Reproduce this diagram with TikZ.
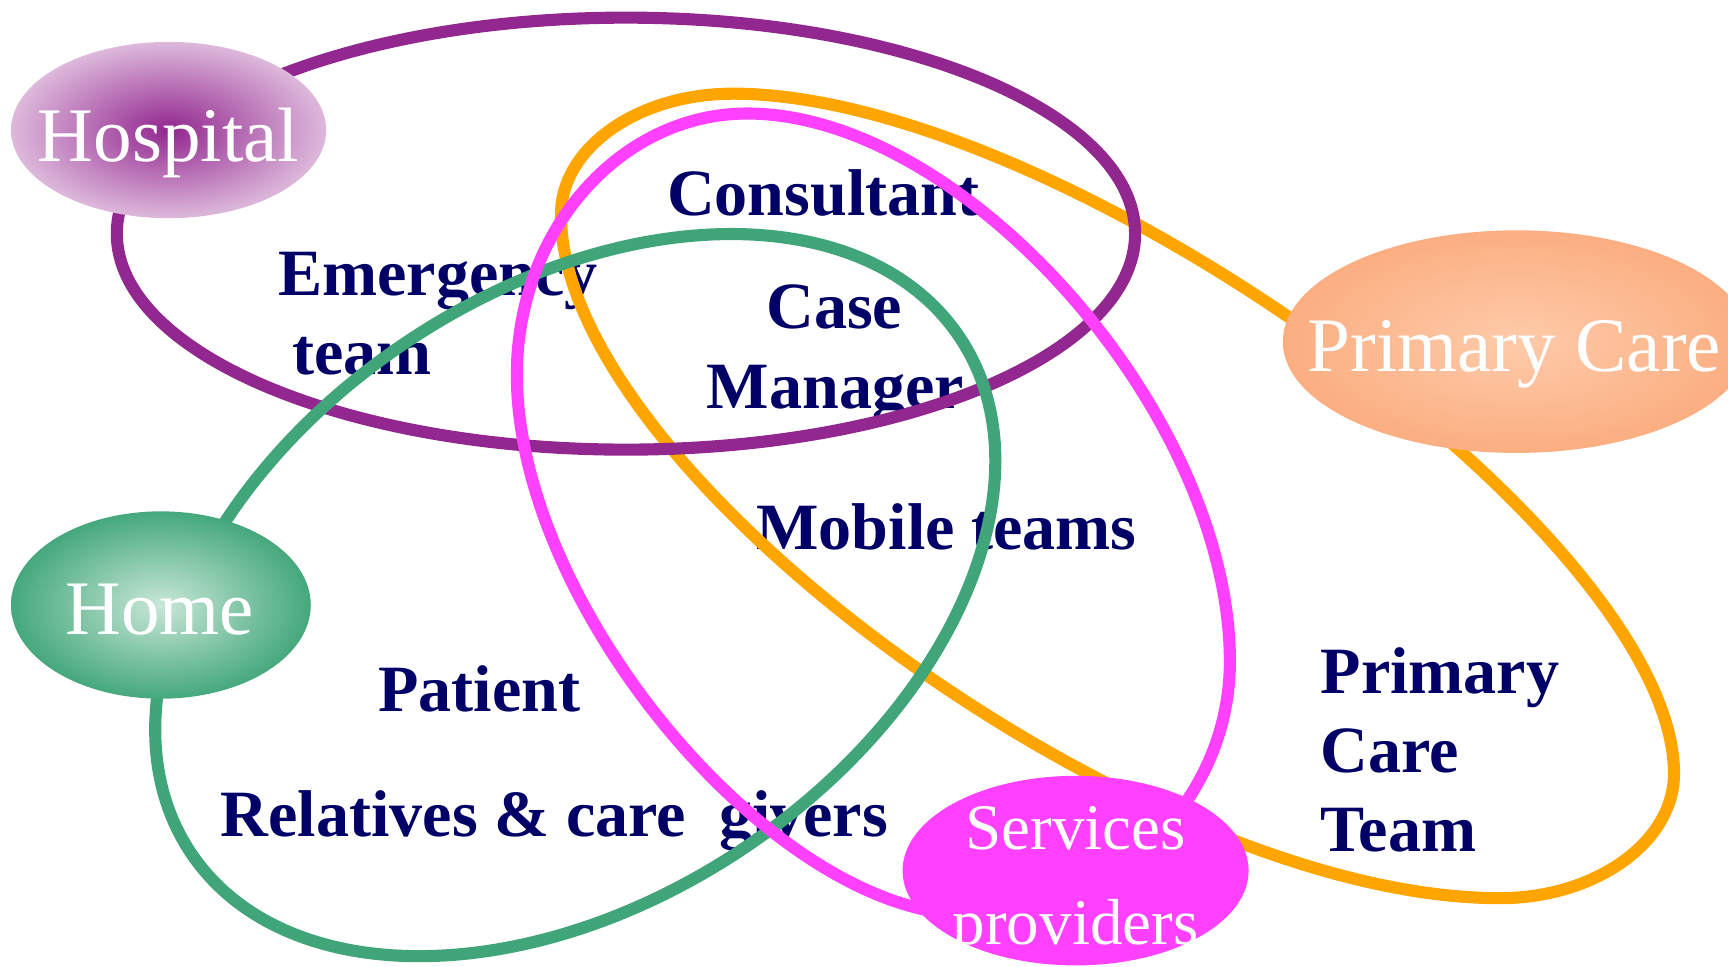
\documentclass[tikz,border=0pt]{standalone}
\usepackage{fontspec}
\setmainfont{Liberation Serif}
\usetikzlibrary{shapes.geometric}
\definecolor{purpleC}{HTML}{92278F}
\definecolor{orangeC}{HTML}{FFA500}
\definecolor{pinkC}{HTML}{FF40FF}
\definecolor{greenC}{HTML}{40A67A}
\definecolor{navyC}{HTML}{000066}
\definecolor{hospIn}{HTML}{92278F}
\definecolor{hospOut}{HTML}{DDB9DB}
\definecolor{pcIn}{HTML}{FECBAA}
\definecolor{pcOut}{HTML}{FBAE81}
\definecolor{homeIn}{HTML}{C9E7D8}
\definecolor{homeOut}{HTML}{45A87C}
\begin{document}
\begin{tikzpicture}[x=0.5pt,y=-0.5pt,
  lbl/.style={inner sep=0pt, text=navyC, font=\fontsize{30pt}{36pt}\selectfont\bfseries, anchor=base west},
  lblc/.style={inner sep=0pt, text=navyC, font=\fontsize{30pt}{36pt}\selectfont\bfseries, anchor=base},
  wlbl/.style={inner sep=0pt, text=white, font=\fontsize{35pt}{42pt}\selectfont, anchor=base},
  slbl/.style={inner sep=0pt, text=white, font=\fontsize{29.5pt}{36pt}\selectfont, anchor=base},
  ring/.style={line width=5.5pt, line join=round},
  blob/.style={ellipse, inner sep=0pt, draw=none},
]
\useasboundingbox (0,0) rectangle (1568,877);

% navy labels (under the outlines)
\node[lbl] (consultant) at (605,196) {Consultant};
\node[lbl] (emergency) at (252,268) {Emergency};
\node[lbl] (team) at (265,340) {team};
\node[lblc] (case) at (757,298) {Case};
\node[lblc] (manager) at (758,371) {Manager};
\node[lbl] (mobile) at (686,499) {Mobile teams};
\node[lbl] (patient) at (343,646) {Patient};
\node[lbl] (relatives) at (200,759) {Relatives \& care~~givers};
\node[lbl] (pct1) at (1198,629) {Primary};
\node[lbl] (pct2) at (1198,701) {Care};
\node[lbl] (pct3) at (1198,773) {Team};

% outlines
\draw[ring, orangeC] (509,195) .. controls (509,134) and (579,85) .. (665,85)
  .. controls (964,85) and (1519,485) .. (1519,702)
  .. controls (1519,764) and (1448,815) .. (1361,815)
  .. controls (1038,815) and (509,431) .. (509,195) -- cycle;
\draw[ring, purpleC] (568,212) ellipse [x radius=462, y radius=196];
\draw[ring, greenC, rotate around={33.9:(522,540)}] (522,540) ellipse [x radius=420, y radius=276];
\draw[ring, pinkC] (469,340) .. controls (469,209) and (563,103) .. (678,103)
  .. controls (875,103) and (1116,376) .. (1116,600)
  .. controls (1116,727) and (1010,830) .. (880,830)
  .. controls (703,830) and (469,551) .. (469,340) -- cycle;

% filled ellipses
\node[blob, minimum width=143pt, minimum height=80pt, inner color=hospIn, outer color=hospOut] (hospital) at (153,118) {};
\node[blob, minimum width=212pt, minimum height=101pt, inner color=pcIn, outer color=pcOut] (primary) at (1376,310) {};
\node[blob, minimum width=136pt, minimum height=85pt, inner color=homeIn, outer color=homeOut] (home) at (146,549) {};
\node[blob, minimum width=157pt, minimum height=86pt, fill=pinkC] (services) at (976,790) {};

% white labels
\node[wlbl] (hospitalT) at (153,147) {Hospital};
\node[wlbl] (primaryT) at (1374,337) {Primary Care};
\node[wlbl] (homeT) at (145,576) {Home};
\node[slbl] (servicesT) at (976,771) {Services};
\node[slbl] (providersT) at (976,857) {providers};
\end{tikzpicture}
\end{document}
